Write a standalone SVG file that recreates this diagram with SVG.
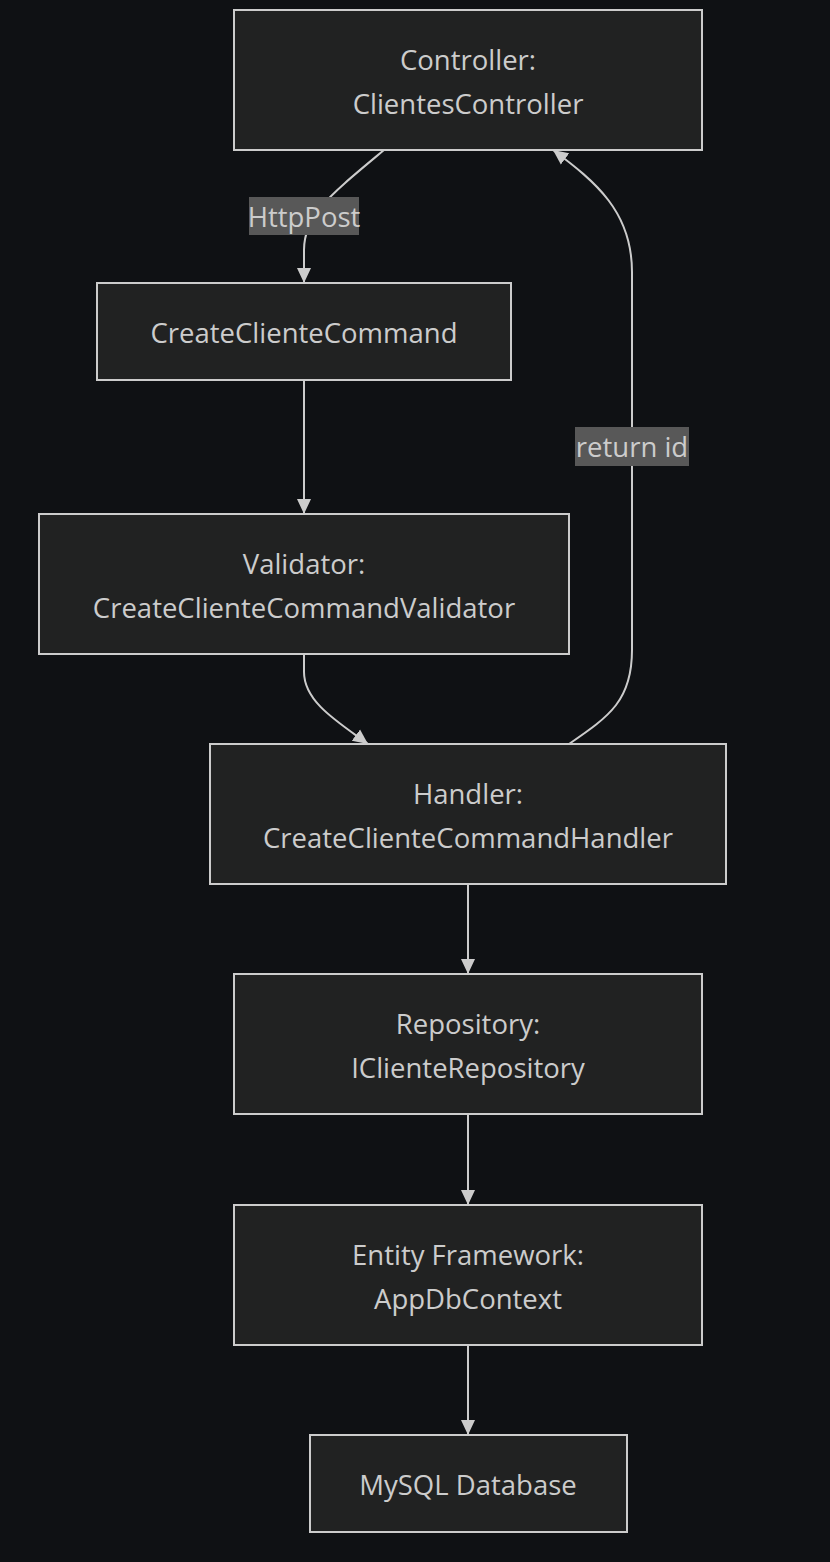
<svg xmlns="http://www.w3.org/2000/svg" width="830" height="1562" viewBox="0 0 830 1562">
<style>
.node rect{fill:#212222;stroke:#cccccc;stroke-width:2}
.node text,.elabel text{font-family:"Open Sans","Noto Sans","DejaVu Sans",sans-serif;font-size:27.5px;fill:#cccccc;text-anchor:middle;dominant-baseline:central}
.edge{fill:none;stroke:#cccccc;stroke-width:2}
.elabel rect{fill:#585858}
</style>
<defs>
<marker id="arr" markerUnits="userSpaceOnUse" markerWidth="16" markerHeight="16" viewBox="0 0 16 16" refX="15" refY="8" orient="auto">
<path d="M0,1 L15,8 L0,15 Z" fill="#cccccc"/>
</marker>
</defs>
<rect width="830" height="1562" fill="#0f1114"/>
<g id="connectors">
<path class="edge" d="M384,150 C330,195 304,215 304,250 L304,283" marker-end="url(#arr)"/>
<path class="edge" d="M304,380 L304,514" marker-end="url(#arr)"/>
<path class="edge" d="M304,654 L304,672 C304,702 338,722 368,744" marker-end="url(#arr)"/>
<path class="edge" d="M569,744 C610,716 632,700 632,650 L632,272 C632,212 596,182 553,150" marker-end="url(#arr)"/>
<path class="edge" d="M468,884 L468,974" marker-end="url(#arr)"/>
<path class="edge" d="M468,1114 L468,1205" marker-end="url(#arr)"/>
<path class="edge" d="M468,1345 L468,1435" marker-end="url(#arr)"/>
<g class="elabel" id="label-httppost"><rect x="249" y="197" width="110" height="38"/><text x="304" y="216">HttpPost</text></g>
<g class="elabel" id="label-returnid"><rect x="575" y="427" width="114" height="39"/><text x="632" y="446">return id</text></g>
</g>
<g class="node" id="controller"><rect x="234" y="10" width="468" height="140"/><text x="468" y="59">Controller:</text><text x="468" y="103">ClientesController</text></g>
<g class="node" id="command"><rect x="97" y="283" width="414" height="97"/><text x="304" y="332">CreateClienteCommand</text></g>
<g class="node" id="validator"><rect x="39" y="514" width="530" height="140"/><text x="304" y="563">Validator:</text><text x="304" y="607">CreateClienteCommandValidator</text></g>
<g class="node" id="handler"><rect x="210" y="744" width="516" height="140"/><text x="468" y="793">Handler:</text><text x="468" y="837">CreateClienteCommandHandler</text></g>
<g class="node" id="repository"><rect x="234" y="974" width="468" height="140"/><text x="468" y="1023">Repository:</text><text x="468" y="1067">IClienteRepository</text></g>
<g class="node" id="efcore"><rect x="234" y="1205" width="468" height="140"/><text x="468" y="1254">Entity Framework:</text><text x="468" y="1298">AppDbContext</text></g>
<g class="node" id="mysql"><rect x="310" y="1435" width="317" height="97"/><text x="468" y="1484">MySQL Database</text></g>
</svg>
